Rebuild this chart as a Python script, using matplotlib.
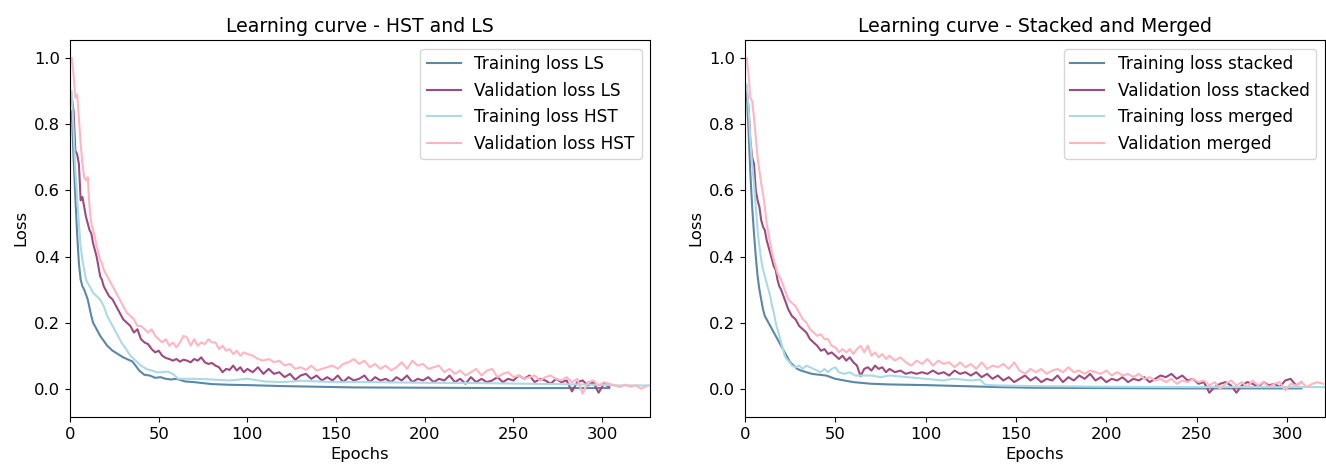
import numpy as np
import matplotlib
matplotlib.use("Agg")
from matplotlib import pyplot as plt

# ---- HST and LS runs ----
ep_train_ls = [1, 2, 3, 4, 5, 6, 7, 8, 10, 12, 13, 15, 17, 19, 21, 24, 27, 30, 32, 35, 37, 39,
               42, 45, 48, 51, 54, 57, 60, 65, 70, 80, 90, 100, 120, 140, 160, 200, 250, 304]
train_ls = [0.84, 0.70, 0.58, 0.47, 0.38, 0.33, 0.31, 0.30, 0.27, 0.22, 0.20, 0.18, 0.16, 0.145, 0.13,
            0.115, 0.105, 0.095, 0.09, 0.083, 0.07, 0.055, 0.042, 0.04, 0.033, 0.035, 0.03, 0.028, 0.03,
            0.022, 0.02, 0.014, 0.012, 0.011, 0.008, 0.006, 0.004, 0.003, 0.002, 0.002]

ep_train_hst = [1, 2, 3, 4, 5, 6, 7, 8, 9, 11, 13, 15, 17, 19, 21, 23, 25, 27, 29, 31, 34, 37, 40,
                43, 46, 49, 52, 55, 58, 61, 65, 70, 80, 90, 100, 110, 120, 130, 150, 170, 200, 230,
                260, 290, 310, 327]
train_hst = [0.90, 0.78, 0.66, 0.58, 0.50, 0.43, 0.39, 0.36, 0.33, 0.31, 0.29, 0.28, 0.27, 0.25, 0.22,
             0.20, 0.18, 0.16, 0.14, 0.125, 0.10, 0.085, 0.07, 0.06, 0.055, 0.05, 0.05, 0.052, 0.045,
             0.03, 0.03, 0.03, 0.028, 0.025, 0.03, 0.022, 0.02, 0.024, 0.02, 0.02, 0.018, 0.017,
             0.015, 0.013, 0.01, 0.01]

# validation losses: every epoch up to 20, every 2nd epoch to 80/100, every 3rd after that
val_ls_a = [0.88, 0.84, 0.72, 0.71, 0.68, 0.57, 0.58, 0.55, 0.52, 0.50, 0.48, 0.47, 0.44, 0.42, 0.40,
            0.37, 0.34, 0.33, 0.31, 0.30]
val_ls_b = [0.28, 0.27, 0.25, 0.23, 0.21, 0.20, 0.19, 0.17, 0.18, 0.15, 0.14, 0.135, 0.12, 0.11, 0.115,
            0.10, 0.093, 0.09, 0.085, 0.09, 0.082, 0.088, 0.085, 0.08, 0.09, 0.085, 0.095, 0.08, 0.075,
            0.078, 0.07, 0.065, 0.05, 0.06, 0.057, 0.07, 0.055, 0.065, 0.05, 0.06]
val_ls_c = [0.05, 0.065, 0.045, 0.06, 0.045, 0.05, 0.035, 0.045, 0.027, 0.04, 0.045, 0.03, 0.04, 0.025,
            0.035, 0.025, 0.04, 0.02, 0.035, 0.025, 0.03, 0.04, 0.02, 0.035, 0.025, 0.03, 0.02, 0.035,
            0.025, 0.04, 0.02, 0.03, 0.025, 0.035, 0.02, 0.03, 0.025, 0.04, 0.02, 0.03, 0.015, 0.035,
            0.02, 0.03, 0.02, 0.025, 0.035, 0.02, 0.03, 0.025, 0.04, 0.03, 0.04, 0.02, 0.03, 0.025,
            0.015, 0.03, 0.02, 0.025, -0.008, 0.02, 0.025, 0.01, 0.02, -0.012, 0.015, 0.005]

val_hst_a = [1.00, 0.95, 0.88, 0.89, 0.82, 0.74, 0.68, 0.64, 0.63, 0.64, 0.55, 0.50, 0.48, 0.46, 0.43,
             0.41, 0.39, 0.38, 0.36, 0.35]
val_hst_b = [0.33, 0.31, 0.29, 0.27, 0.25, 0.23, 0.22, 0.21, 0.19, 0.19, 0.18, 0.17, 0.18, 0.16, 0.15,
             0.14, 0.15, 0.13, 0.14, 0.125, 0.14, 0.16, 0.155, 0.13, 0.15, 0.13, 0.14, 0.135, 0.15, 0.14,
             0.14, 0.12, 0.13, 0.115, 0.12, 0.105, 0.115, 0.10, 0.11, 0.105]
val_hst_c = [0.10, 0.09, 0.085, 0.09, 0.08, 0.085, 0.07, 0.075, 0.06, 0.065, 0.057, 0.07, 0.055, 0.06,
             0.065, 0.07, 0.06, 0.075, 0.08, 0.09, 0.075, 0.085, 0.065, 0.075, 0.06, 0.07, 0.055, 0.065,
             0.08, 0.06, 0.085, 0.07, 0.075, 0.06, 0.065, 0.07, 0.05, 0.06, 0.045, 0.055, 0.04, 0.05,
             0.06, 0.04, 0.055, 0.06, 0.035, 0.045, 0.05, 0.035, 0.04, 0.03, 0.035, 0.04, 0.025, 0.035,
             0.04, 0.03, 0.025, 0.035, 0.02, 0.03, -0.015, 0.02, 0.025, 0.01, 0.02, 0.015, 0.01, 0.005,
             0.012, 0.006, 0.01, 0.0, 0.008]

# ---- stacked and merged runs ----
ep_train_st = [1, 2, 3, 4, 5, 6, 7, 8, 9, 10, 11, 12, 13, 14, 15, 17, 19, 21, 23, 25, 27, 29, 31,
               34, 37, 40, 45, 50, 55, 60, 70, 80, 100, 120, 140, 160, 200, 250, 300, 308]
train_st = [0.90, 0.78, 0.65, 0.55, 0.47, 0.40, 0.34, 0.30, 0.27, 0.24, 0.22, 0.21, 0.20, 0.19, 0.18,
            0.16, 0.14, 0.12, 0.10, 0.08, 0.07, 0.06, 0.055, 0.05, 0.045, 0.043, 0.04, 0.03, 0.025,
            0.02, 0.015, 0.013, 0.011, 0.008, 0.005, 0.003, 0.002, 0.001, 0.001, 0.001]

ep_train_mg = [1, 2, 3, 4, 5, 6, 7, 8, 9, 10, 11, 12, 13, 14, 15, 16, 17, 18, 19, 20, 21, 22, 23, 24,
               26, 28, 30, 32, 34, 36, 38, 40, 42, 44, 46, 48, 50, 52, 55, 58, 61, 65, 70, 75, 80,
               90, 100, 110, 115, 120, 125, 130, 133, 140, 160, 200, 250, 300, 321]
train_mg = [0.92, 0.85, 0.75, 0.68, 0.62, 0.55, 0.48, 0.43, 0.39, 0.36, 0.34, 0.32, 0.30, 0.28, 0.25,
            0.23, 0.20, 0.18, 0.16, 0.14, 0.12, 0.10, 0.09, 0.085, 0.07, 0.065, 0.07, 0.06, 0.07,
            0.065, 0.06, 0.055, 0.05, 0.06, 0.05, 0.06, 0.065, 0.05, 0.045, 0.05, 0.04, 0.04, 0.04,
            0.035, 0.04, 0.035, 0.03, 0.025, 0.03, 0.028, 0.025, 0.028, 0.012, 0.01, 0.008, 0.006,
            0.005, 0.005, 0.005]

val_st_a = [0.90, 0.85, 0.75, 0.70, 0.68, 0.60, 0.57, 0.55, 0.51, 0.49, 0.48, 0.45, 0.43, 0.41, 0.39,
            0.37, 0.36, 0.33, 0.31, 0.30]
val_st_b = [0.27, 0.24, 0.22, 0.21, 0.19, 0.18, 0.17, 0.15, 0.14, 0.13, 0.115, 0.12, 0.105, 0.11, 0.10,
            0.09, 0.10, 0.085, 0.095, 0.08, 0.07, 0.038, 0.06, 0.065, 0.055, 0.07, 0.06, 0.065, 0.05,
            0.06]
val_st_c = [0.05, 0.055, 0.045, 0.05, 0.045, 0.05, 0.045, 0.055, 0.045, 0.05, 0.04, 0.055, 0.045, 0.05,
            0.04, 0.05, 0.035, 0.045, 0.03, 0.04, 0.025, 0.035, 0.02, 0.03, 0.04, 0.025, 0.035, 0.02,
            0.03, 0.025, 0.04, 0.02, 0.035, 0.025, 0.04, 0.03, 0.045, 0.025, 0.035, 0.02, 0.03, 0.025,
            0.035, 0.02, 0.03, 0.025, 0.035, 0.02, 0.03, 0.04, 0.035, 0.045, 0.03, 0.04, 0.025, 0.03,
            0.015, 0.02, -0.012, 0.005, 0.015, 0.02, 0.01, -0.012, 0.01, 0.02, 0.015, 0.005, 0.02,
            0.01, 0.015, 0.005, 0.025, 0.03, 0.01, 0.02]

val_mg_a = [1.00, 0.95, 0.88, 0.87, 0.82, 0.76, 0.70, 0.66, 0.62, 0.59, 0.55, 0.50, 0.47, 0.44, 0.41,
            0.39, 0.37, 0.35, 0.34, 0.33]
val_mg_b = [0.30, 0.27, 0.26, 0.25, 0.23, 0.21, 0.20, 0.18, 0.17, 0.16, 0.165, 0.15, 0.15, 0.13, 0.125,
            0.11, 0.12, 0.11, 0.12, 0.105, 0.12, 0.13, 0.11, 0.13, 0.10, 0.11, 0.095, 0.105, 0.09,
            0.10]
val_mg_c = [0.085, 0.095, 0.08, 0.07, 0.085, 0.075, 0.09, 0.07, 0.085, 0.075, 0.08, 0.065, 0.08, 0.065,
            0.075, 0.06, 0.08, 0.06, 0.07, 0.065, 0.075, 0.06, 0.08, 0.055, 0.045, 0.06, 0.05, 0.06,
            0.045, 0.055, 0.06, 0.05, 0.065, 0.05, 0.055, 0.045, 0.055, 0.05, 0.045, 0.055, 0.04,
            0.05, 0.04, 0.045, 0.035, 0.045, 0.03, 0.035, 0.025, 0.03, 0.02, 0.03, 0.015, 0.025, 0.02,
            0.03, 0.02, 0.025, 0.01, 0.02, 0.0, 0.015, 0.025, 0.01, 0.02, 0.005, 0.025, 0.01, 0.02,
            0.005, 0.015, 0.02, -0.005, 0.015, 0.01, 0.02, 0.005, 0.015, 0.02, 0.015]


def sampled(a, b, c):
    # epoch numbers for the three sampling blocks (step 1, 2, 3)
    ea = np.arange(1, len(a) + 1)
    eb = np.arange(22, 22 + 2 * len(b), 2)
    ec = np.arange(eb[-1] + 3, eb[-1] + 3 + 3 * len(c), 3)
    return np.concatenate([ea, eb, ec]), np.array(a + b + c)


ep_val_ls, val_ls = sampled(val_ls_a, val_ls_b, val_ls_c)
ep_val_hst, val_hst = sampled(val_hst_a, val_hst_b, val_hst_c)
ep_val_st, val_st = sampled(val_st_a, val_st_b, val_st_c)
ep_val_mg, val_mg = sampled(val_mg_a, val_mg_b, val_mg_c)

c_train = "#5a88a8"     # darker blue
c_val = "#9e4a7f"       # plum
c_train2 = "lightblue"
c_val2 = "lightpink"
lw = 1.5

fig = plt.figure(figsize=(13.26, 4.71), dpi=100)
ax1 = fig.add_axes([0.0528, 0.115, 0.4374, 0.80])
ax2 = fig.add_axes([0.5618, 0.115, 0.4374, 0.80])

ax1.plot(ep_train_ls, train_ls, color=c_train, lw=lw, label="Training loss LS")
ax1.plot(ep_val_ls, val_ls, color=c_val, lw=lw, label="Validation loss LS")
ax1.plot(ep_train_hst, train_hst, color=c_train2, lw=lw, label="Training loss HST")
ax1.plot(ep_val_hst, val_hst, color=c_val2, lw=lw, label="Validation loss HST")
ax1.set_xlim(0, 327)
ax1.set_title("Learning curve - HST and LS", fontsize=13.6)

ax2.plot(ep_train_st, train_st, color=c_train, lw=lw, label="Training loss stacked")
ax2.plot(ep_val_st, val_st, color=c_val, lw=lw, label="Validation loss stacked")
ax2.plot(ep_train_mg, train_mg, color=c_train2, lw=lw, label="Training loss merged")
ax2.plot(ep_val_mg, val_mg, color=c_val2, lw=lw, label="Validation merged")
ax2.set_xlim(0, 321)
ax2.set_title("Learning curve - Stacked and Merged", fontsize=13.6)

for ax in (ax1, ax2):
    ax.set_ylim(-0.085, 1.055)
    ax.set_xlabel("Epochs", fontsize=11.8)
    ax.set_ylabel("Loss", fontsize=11.8)
    ax.tick_params(labelsize=11.8)
    ax.legend(loc="upper right", fontsize=12.2)

fig.savefig("out.png", dpi=100)
